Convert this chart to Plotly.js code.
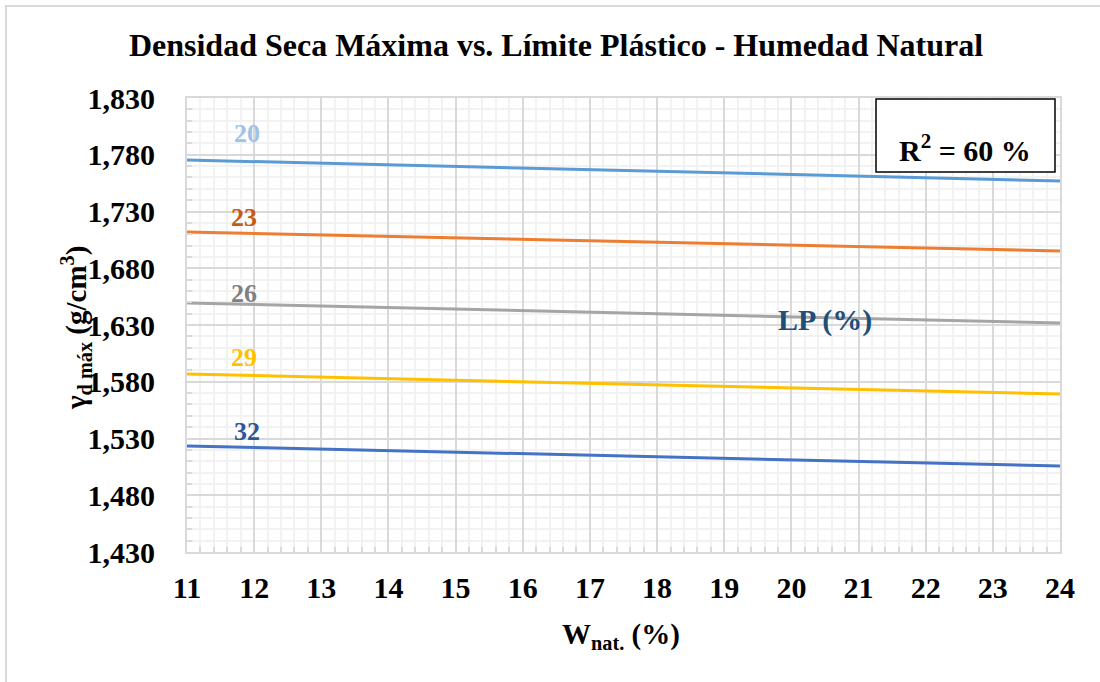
<!DOCTYPE html>
<html>
<head>
<meta charset="utf-8">
<script src="https://cdn.plot.ly/plotly-3.0.1.min.js"></script>
<style>
  body { margin: 0; padding: 0; background: #fff; }
  #wrap { position: relative; width: 1100px; height: 682px; overflow: hidden; }
  #chart { width: 1100px; height: 682px; }
  #frame { position: absolute; left: 5px; top: 5px; width: 1200px; height: 800px;
           border-top: 2px solid #D9D9D9; border-left: 2px solid #D9D9D9; pointer-events: none; }
</style>
</head>
<body>
<div id="wrap">
  <div id="chart"></div>
  <div id="frame"></div>
</div>
<script>
// Data
const wNat = [11, 24];
const lpLabels = ['20', '23', '26', '29', '32'];
const densLP20 = [1775.4, 1756.9];
const densLP23 = [1711.9, 1695.2];
const densLP26 = [1649.4, 1631.8];
const densLP29 = [1586.8, 1569.2];
const densLP32 = [1523.4, 1505.8];
const lineColors = ['#5B9BD5', '#ED7D31', '#A5A5A5', '#FFC000', '#4472C4'];
const labelColors = ['#9DC3E6', '#C55A11', '#808080', '#FFC000', '#2F5597'];
const labelX = [11.9, 11.85, 11.85, 11.85, 11.9];
const labelY = [1799, 1725, 1658, 1601, 1536];
const seriesData = [densLP20, densLP23, densLP26, densLP29, densLP32];

const FONT = 'Liberation Serif, Times New Roman, serif';

// plot-area pixel helpers (for paper-referenced decorations)
const PL = 187, PR = 1060, PT = 98, PB = 552;
const px = v => (v - PL) / (PR - PL);
const py = v => (PB - v) / (PB - PT);

const traces = seriesData.map((ys, i) => ({
  x: wNat, y: ys, type: 'scatter', mode: 'lines',
  line: { color: lineColors[i], width: 3 },
  name: 'LP ' + lpLabels[i], showlegend: false, hoverinfo: 'skip'
}));

const annotations = lpLabels.map((t, i) => ({
  x: labelX[i], y: labelY[i], xref: 'x', yref: 'y', text: '<b>' + t + '</b>',
  xanchor: 'center', yanchor: 'middle',
  showarrow: false, font: { family: FONT, size: 26, color: labelColors[i] }
}));

annotations.push({
  x: 20.5, y: 1634, xref: 'x', yref: 'y', text: '<b>LP (%)</b>', showarrow: false,
  xanchor: 'center', yanchor: 'middle',
  font: { family: FONT, size: 30, color: '#1F4E79' }
});
annotations.push({
  x: px(965), y: py(148), xref: 'paper', yref: 'paper',
  xanchor: 'center', yanchor: 'middle',
  text: '<b>R<sup>2</sup> = 60 %</b>', showarrow: false,
  font: { family: FONT, size: 30, color: '#000' }
});
annotations.push({
  x: px(621), y: py(636), xref: 'paper', yref: 'paper',
  xanchor: 'center', yanchor: 'middle',
  text: '<b>W<sub>nat.</sub> (%)</b>', showarrow: false,
  font: { family: FONT, size: 29, color: '#000' }
});
annotations.push({
  x: px(76), y: py(328), xref: 'paper', yref: 'paper',
  xanchor: 'center', yanchor: 'middle',
  text: '<b>γ<sub>d máx</sub> (g/cm<sup>3</sup>)</b>', showarrow: false, textangle: -90,
  font: { family: FONT, size: 29, color: '#000' }
});

const layout = {
  width: 1100, height: 682,
  margin: { l: PL, r: 1100 - PR, t: PT, b: 682 - PB, pad: 0 },
  paper_bgcolor: '#fff', plot_bgcolor: '#fff',
  separators: '.,',
  title: {
    text: '<b>Densidad Seca Máxima vs. Límite Plástico - Humedad Natural</b>',
    xref: 'container', yref: 'container', x: 556 / 1100, y: 1 - 45 / 682,
    xanchor: 'center', yanchor: 'middle',
    font: { family: FONT, size: 32, color: '#000' }
  },
  xaxis: {
    range: [11, 24], tick0: 11, dtick: 1, tickmode: 'linear',
    showgrid: true, gridcolor: '#D9D9D9', gridwidth: 2,
    showline: true, linecolor: '#D9D9D9', linewidth: 2, mirror: true,
    ticks: 'inside', ticklen: 5, tickcolor: '#D9D9D9', tickwidth: 2,
    zeroline: false,
    tickfont: { family: FONT, size: 30, color: '#000', weight: 'bold' },
    ticklabelstandoff: 8,
    minor: { dtick: 0.2, showgrid: true, gridcolor: '#F2F2F2', gridwidth: 2,
             ticks: 'inside', ticklen: 5, tickcolor: '#D9D9D9', tickwidth: 2 }
  },
  yaxis: {
    range: [1430, 1830], tick0: 1430, dtick: 50, tickmode: 'linear',
    tickformat: ',d',
    showgrid: true, gridcolor: '#D9D9D9', gridwidth: 2,
    showline: true, linecolor: '#D9D9D9', linewidth: 2, mirror: true,
    ticks: 'inside', ticklen: 5, tickcolor: '#D9D9D9', tickwidth: 2,
    zeroline: false,
    tickfont: { family: FONT, size: 30, color: '#000', weight: 'bold' },
    ticklabelstandoff: 24,
    minor: { dtick: 10, showgrid: true, gridcolor: '#F2F2F2', gridwidth: 2,
             ticks: 'inside', ticklen: 5, tickcolor: '#D9D9D9', tickwidth: 2 }
  },
  shapes: [{
    type: 'rect', xref: 'paper', yref: 'paper',
    x0: px(876), x1: px(1055), y0: py(172), y1: py(99),
    line: { color: '#000', width: 1.5 }, fillcolor: 'rgba(255,255,255,1)', layer: 'above'
  }],
  annotations: annotations,
  showlegend: false
};

Plotly.newPlot('chart', traces, layout, { displayModeBar: false, staticPlot: true });
</script>
</body>
</html>
